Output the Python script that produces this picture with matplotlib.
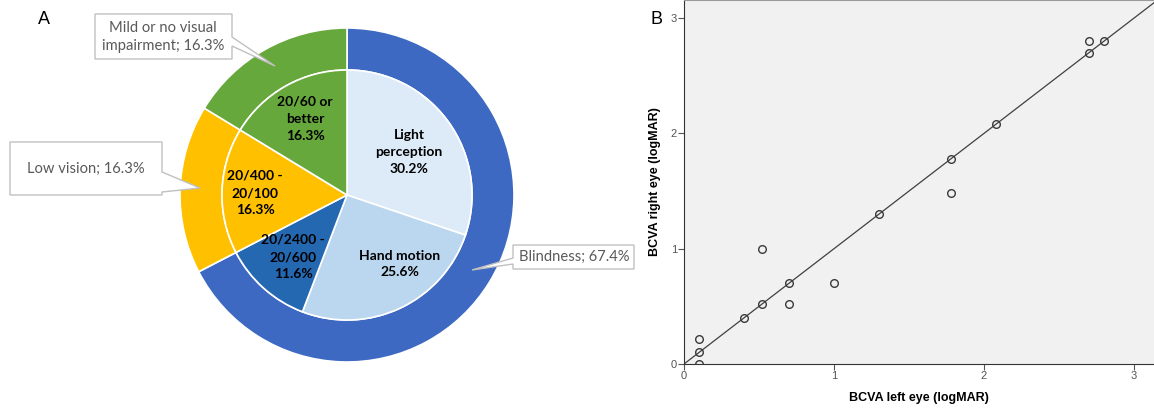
import numpy as np
import matplotlib
matplotlib.use("Agg")
import matplotlib.pyplot as plt
from matplotlib.patches import Polygon

# panel A data
outer_names = ["Blindness", "Low vision", "Mild or no visual\nimpairment"]
outer_vals = [67.4, 16.3, 16.3]
inner_names = ["Light\nperception", "Hand motion", "20/2400 -\n20/600", "20/400 -\n20/100", "20/60 or\nbetter"]
inner_vals = [30.2, 25.6, 11.6, 16.3, 16.3]

# panel B data (logMAR)
left_eye = [0.1, 0.1, 0.1, 0.4, 0.52, 0.52, 0.7, 0.7, 1.0, 1.3, 1.78, 1.78, 2.08, 2.7, 2.7, 2.8]
right_eye = [0.22, 0.1, 0.0, 0.4, 0.52, 1.0, 0.7, 0.52, 0.7, 1.3, 1.78, 1.48, 2.08, 2.8, 2.7, 2.8]
ticks = [0, 1, 2, 3]

outer_colors = ["#3D69C3", "#FFC000", "#66A83C"]
inner_colors = ["#DDEBF8", "#BBD6EF", "#2468B2", "#FFC000", "#66A83C"]

W, H = 1154, 409
fig = plt.figure(figsize=(W / 100, H / 100), dpi=100)

# ---- pie (axes in pixel units, y up) ----
axp = fig.add_axes([0, 0, 660 / W, 1])
cx, cy = 347, H - 195
R_out, R_in = 167, 125

axp.pie(outer_vals, radius=R_out, center=(cx, cy), startangle=90, counterclock=False,
        colors=outer_colors, wedgeprops=dict(width=R_out - R_in, edgecolor="white", linewidth=1.2))
axp.pie(inner_vals, radius=R_in, center=(cx, cy), startangle=90, counterclock=False,
        colors=inner_colors, wedgeprops=dict(edgecolor="white", linewidth=1.2))
axp.set_xlim(0, 660)
axp.set_ylim(0, H)
axp.axis("off")

lab_font = ["Lato", "DejaVu Sans"]
inner_offsets = [(62, 43), (53, -69), (-54, -62), (-92, 2), (-42, 76)]
for name, v, (dx, dy) in zip(inner_names, inner_vals, inner_offsets):
    axp.text(cx + dx, cy + dy, "%s\n%.1f%%" % (name, v), ha="center", va="center",
             fontsize=10, fontweight="bold", family=lab_font, color="black", linespacing=1.5)

# callouts: box + wedge outline (pixel coords from top)
def callout(pts, text, tx, ty):
    poly = Polygon([(x, H - y) for x, y in pts], closed=True, fc="white", ec="#c0c0c0", lw=1, zorder=5)
    axp.add_patch(poly)
    axp.text(tx, H - ty, text, ha="center", va="center", fontsize=10.6, family=lab_font,
             color="#595959", zorder=6, linespacing=1.35)

callout([(95, 14), (232, 14), (232, 37), (275, 66), (232, 46), (232, 59), (95, 59)],
        "%s; %.1f%%" % (outer_names[2], outer_vals[2]), 163, 37)
callout([(10, 142), (162, 142), (162, 172), (200, 188), (162, 192), (162, 195), (10, 195)],
        "%s; %.1f%%" % (outer_names[1], outer_vals[1]), 86, 169)
callout([(513, 245), (634, 245), (634, 269), (513, 269), (513, 264), (472, 270), (513, 258)],
        "%s; %.1f%%" % (outer_names[0], outer_vals[0]), 574, 257)

fig.text(44 / W, 1 - 20 / H, "A", ha="center", va="center", fontsize=13, family="Liberation Sans")
fig.text(657 / W, 1 - 19 / H, "B", ha="center", va="center", fontsize=13, family="Liberation Sans")

# ---- scatter ----
ax = fig.add_axes([684 / W, 45 / H, (W - 684) / W, 364 / H])
ax.set_facecolor("#F1F1F1")
ax.axline((0, 0), slope=1, color="#404040", lw=0.9, zorder=2)
ax.plot(left_eye, right_eye, "o", ms=5.5, mfc="none", mec="#3a3a3a", mew=1.0, zorder=3)
ax.set_xlim(0, 470 / 150)
ax.set_ylim(0, 364 / 115.3)
ax.set_xticks(ticks)
ax.set_yticks(ticks)
ax.tick_params(length=4, width=0.8, color="#555555", labelsize=8, labelcolor="#555555", pad=1)
for lab in ax.get_xticklabels() + ax.get_yticklabels():
    lab.set_family("Liberation Sans")
ax.spines["right"].set_visible(False)
ax.spines["top"].set_color("#9a9a9a")
ax.spines["left"].set_color("#333333")
ax.spines["bottom"].set_color("#333333")
ax.set_xlabel("BCVA left eye (logMAR)", fontsize=9, fontweight="bold", family="Liberation Sans", labelpad=8)
ax.set_ylabel("BCVA right eye (logMAR)", fontsize=9, fontweight="bold", family="Liberation Sans", labelpad=7)

fig.savefig("out.png", dpi=100)
